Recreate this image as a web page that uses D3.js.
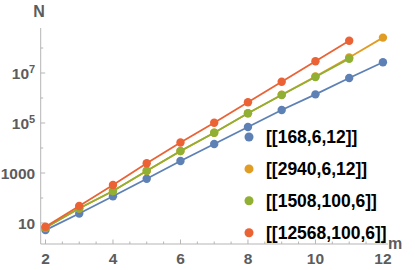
<!DOCTYPE html>
<html>
<head>
<meta charset="utf-8">
<script src="https://cdn.jsdelivr.net/npm/d3@7"></script>
<style>
  body { margin: 0; background: #fff; }
  text { font-family: "Liberation Sans", Arial, sans-serif; font-weight: bold; }
</style>
</head>
<body>
<div id="chart"></div>
<script>
// values (N against m, log scale)
var mBlue = [2, 3, 4, 5, 6, 7, 8, 9, 10, 11, 12];
var nBlue = [5.2, 24, 117, 590, 3020, 14500, 69000, 331000, 1.4e6, 6.3e6, 2.7e7];
var mOrange = [2, 3, 4, 5, 6, 7, 8, 9, 10, 11, 12];
var nOrange = [6.5, 38, 190, 1200, 7500, 41000, 245000, 1.35e6, 7.2e6, 4.2e7, 2.6e8];
var mGreen = [2, 3, 4, 5, 6, 7, 8, 9, 10, 11];
var nGreen = [6.5, 39, 191, 1230, 7600, 41000, 245000, 1.32e6, 6.9e6, 3.7e7];
var mRed = [2, 3, 4, 5, 6, 7, 8, 9, 10, 11];
var nRed = [7.1, 48, 331, 2450, 16600, 102000, 676000, 4.47e6, 2.95e7, 1.95e8];

var seriesNames = ["[[168,6,12]]", "[[2940,6,12]]", "[[1508,100,6]]", "[[12568,100,6]]"];
var colors = ["#5e81b5", "#e19c24", "#8fb032", "#eb6235"];

var xMajor = [2, 4, 6, 8, 10, 12];
var yMajor = [1, 3, 5, 7];   // exponents with labels
var yMinor = [2, 4, 6, 8];

var w = 415, h = 270;
var svg = d3.select('#chart').append('svg')
  .attr("width", w).attr("height", h);

var x = d3.scaleLinear().domain([1.858, 12.15]).range([40.7, 388]);
var y = d3.scaleLog().domain([Math.pow(10, 0.16), Math.pow(10, 8.8)]).range([244, 28]);

var axisCol = "#b5b5b5", labelCol = "#5c5c5c";

// x axis
var xMinor = d3.range(2, 12.01, 0.5).filter(function(d) { return d % 2 != 0; });
var gx = svg.append("g").attr("transform", "translate(0,244)");
gx.append("line").attr("x1", 40.7).attr("x2", 388).attr("stroke", axisCol);
gx.selectAll("line.min").data(xMinor).enter().append("line")
  .attr("x1", function(d) { return x(d); }).attr("x2", function(d) { return x(d); })
  .attr("y1", 0).attr("y2", -2.5).attr("stroke", axisCol);
gx.selectAll("line.maj").data(xMajor).enter().append("line")
  .attr("x1", function(d) { return x(d); }).attr("x2", function(d) { return x(d); })
  .attr("y1", 0).attr("y2", -4.5).attr("stroke", axisCol);
gx.selectAll("text").data(xMajor).enter().append("text")
  .text(function(d) { return d; })
  .attr("x", function(d) { return x(d); })
  .attr("y", 19.5)
  .attr("text-anchor", "middle")
  .attr("font-size", "15.5px")
  .attr("fill", labelCol);

// y axis
var gy = svg.append("g").attr("transform", "translate(40.7,0)");
gy.append("line").attr("y1", 28).attr("y2", 244).attr("stroke", axisCol);
gy.selectAll("line.min").data(yMinor).enter().append("line")
  .attr("y1", function(d) { return y(Math.pow(10, d)); }).attr("y2", function(d) { return y(Math.pow(10, d)); })
  .attr("x1", 0).attr("x2", 2.5).attr("stroke", axisCol);
gy.selectAll("line.maj").data(yMajor).enter().append("line")
  .attr("y1", function(d) { return y(Math.pow(10, d)); }).attr("y2", function(d) { return y(Math.pow(10, d)); })
  .attr("x1", 0).attr("x2", 4.5).attr("stroke", axisCol);
var yl = gy.selectAll("text").data(yMajor).enter().append("text")
  .attr("x", -5.5)
  .attr("y", function(d) { return y(Math.pow(10, d)) + 5.5; })
  .attr("text-anchor", "end")
  .attr("font-size", "15.5px")
  .attr("fill", labelCol);
yl.each(function(d) {
  var t = d3.select(this);
  if (d < 4) {
    t.text(Math.pow(10, d));
  } else {
    t.append("tspan").text("10");
    t.append("tspan").text(d).attr("font-size", "11px").attr("dy", -6);
  }
});

svg.append("text").text("N").attr("x", 39).attr("y", 17)
  .attr("text-anchor", "middle").attr("font-size", "16px").attr("fill", labelCol);
svg.append("text").text("m").attr("x", 395).attr("y", 249)
  .attr("text-anchor", "middle").attr("font-size", "16px").attr("fill", labelCol);

// series
var all = [[mBlue, nBlue], [mOrange, nOrange], [mGreen, nGreen], [mRed, nRed]];
var line = d3.line()
  .x(function(d) { return x(d[0]); })
  .y(function(d) { return y(d[1]); });

all.forEach(function(s, i) {
  var pts = d3.zip(s[0], s[1]);
  var g = svg.append("g");
  g.append("path").datum(pts)
    .attr("d", line).attr("fill", "none")
    .attr("stroke", colors[i]).attr("stroke-width", 1.8);
  g.selectAll("circle").data(pts).enter().append("circle")
    .attr("cx", function(d) { return x(d[0]); })
    .attr("cy", function(d) { return y(d[1]); })
    .attr("r", 4.2)
    .attr("fill", colors[i]);
});

// legend
var lg = svg.append("g").attr("transform", "translate(249,137)");
var rows = lg.selectAll("g").data(seriesNames).enter().append("g")
  .attr("transform", function(d, i) { return "translate(0," + (i * 31.9) + ")"; });
rows.append("circle").attr("r", 4.5).attr("fill", function(d, i) { return colors[i]; });
rows.append("text").text(function(d) { return d; })
  .attr("x", 17).attr("y", 6.2)
  .attr("font-size", "17.5px").attr("fill", "#000");
</script>
</body>
</html>
